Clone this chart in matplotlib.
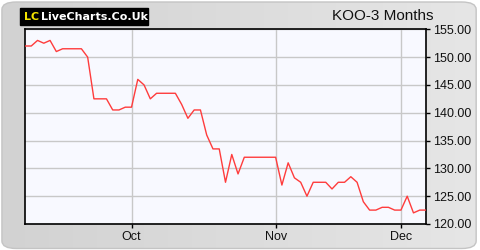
import matplotlib.pyplot as plt
import numpy as np
from matplotlib.patches import FancyBboxPatch

# KOO closing prices, one per trading day (3 months)
prices = [152.0, 152.0, 153.0, 152.5, 153.0, 151.0, 151.5, 151.5, 151.5, 151.5,
          150.0, 142.5, 142.5, 142.5, 140.5, 140.5, 141.0, 141.0, 146.0, 145.0,
          142.5, 143.5, 143.5, 143.5, 143.5, 141.5, 139.0, 140.5, 140.5, 136.0,
          133.5, 133.5, 127.5, 132.5, 129.0, 132.0, 132.0, 132.0, 132.0, 132.0,
          132.0, 127.0, 131.0, 128.3, 127.5, 125.0, 127.5, 127.5, 127.5, 126.3,
          127.5, 127.5, 128.5, 127.5, 124.0, 122.5, 122.5, 123.0, 123.0, 122.5,
          122.5, 125.0, 122.0, 122.5, 122.5]
month_labels = ["Oct", "Nov", "Dec"]
month_start = [17, 40, 60]  # index of first trading day of each month
y_ticks = [120, 125, 130, 135, 140, 145, 150, 155]

fig = plt.figure(figsize=(4.8, 2.5), dpi=100)
fig.patch.set_facecolor("white")

# Rounded grey panel with a soft left-to-right gradient
bg = fig.add_axes([0, 0, 1, 1])
bg.set_xlim(0, 1)
bg.set_ylim(0, 1)
bg.axis("off")
grad = np.linspace(0, 1, 256).reshape(1, -1)
img = bg.imshow(grad, extent=[0, 1, 0, 1], aspect="auto", cmap=plt.matplotlib.colors.LinearSegmentedColormap.from_list("g", ["#d2d2d2", "#e6e6e6"]), zorder=0)
panel = FancyBboxPatch((0.004, 0.006), 0.988, 0.986, boxstyle="round,pad=0,rounding_size=0.03",
                       transform=bg.transAxes, facecolor="none", edgecolor="#c4c4c4", lw=1)
bg.add_patch(panel)
img.set_clip_path(panel)

# Logo
bg.add_patch(plt.Rectangle((20 / 480, 1 - 25 / 250), 128 / 480, 17 / 250, color="black", zorder=2))
bg.text(24 / 480, 1 - 16.5 / 250, "LC", color="#f5e400", fontsize=8, fontweight="bold", va="center", zorder=3)
bg.text(41 / 480, 1 - 16.5 / 250, "LiveCharts.Co.Uk", color="white", fontsize=8, fontweight="bold", va="center", zorder=3)

# Title
bg.text(433 / 480, 1 - 16 / 250, "KOO-3 Months", fontsize=11, ha="right", va="center",
        family="Liberation Sans", color="#111111", zorder=3)

ax = fig.add_axes([25 / 480, 26 / 250, 401 / 480, 194.7 / 250])
ax.set_facecolor("#f8f9ff")
ax.plot(range(len(prices)), prices, color="#ff3c3c", lw=1.0, zorder=3)

ax.set_xlim(0, len(prices) - 1)
ax.set_ylim(120, 155)
ax.set_xticks(month_start)
ax.set_xticklabels(month_labels)
ax.set_yticks(y_ticks)
ax.set_yticklabels([f"{v:.2f}" for v in y_ticks])
ax.yaxis.tick_right()
ax.grid(True, color="#c8c8c8", lw=1)
ax.set_axisbelow(True)
for s in ax.spines.values():
    s.set_color("black")
    s.set_linewidth(1.2)
ax.tick_params(axis="both", direction="out", length=3, width=1, labelsize=9, colors="black", pad=2)
for lab in ax.get_xticklabels() + ax.get_yticklabels():
    lab.set_family("Liberation Sans")
    lab.set_color("#111111")

plt.savefig("out.png", dpi=100)
